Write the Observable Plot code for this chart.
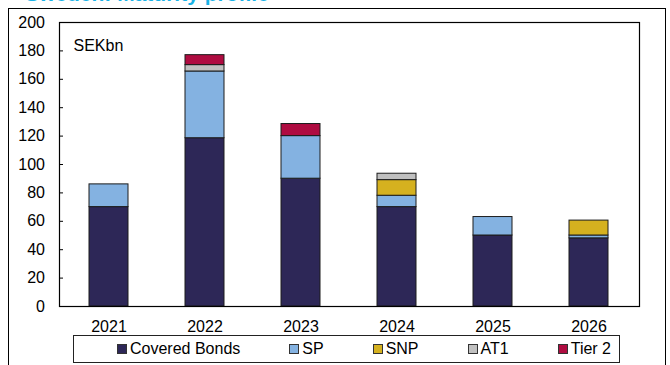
<!DOCTYPE html>
<html>
<head>
<meta charset="utf-8">
<script src="https://cdn.jsdelivr.net/npm/d3@7"></script>
<script src="https://cdn.jsdelivr.net/npm/@observablehq/plot@0.6"></script>
<style>
  html, body { margin: 0; padding: 0; background: #fff; }
  #wrap { position: relative; width: 670px; height: 365px; overflow: hidden; font-family: Arial, "Liberation Sans", sans-serif; }
  #title { position: absolute; left: 25px; top: -18px; font: bold 21px Arial, "Liberation Sans", sans-serif; color: #19b2e6; white-space: nowrap; }
  #frame { position: absolute; left: 8px; top: 8px; width: 658px; height: 400px; border: 1.5px solid #000; box-sizing: border-box; }
  #chart { position: absolute; left: 0; top: 0; }
  #legend { position: absolute; left: 73px; top: 335px; width: 547px; height: 28px; border: 1px solid #222; box-sizing: border-box; background: #fff;
            display: flex; align-items: center; padding-left: 43px; gap: 49px; font-size: 16px; color: #000; }
  .item { display: flex; align-items: center; white-space: nowrap; }
  .sw { width: 10px; height: 10px; box-sizing: border-box; border: 1px solid #333; margin-right: 3px; }
</style>
</head>
<body>
<div id="wrap">
  <div id="title">Sweden: Maturity profile</div>
  <div id="frame"></div>
  <div id="chart"></div>
  <div id="legend"></div>
</div>
<script>
const years = ["2021", "2022", "2023", "2024", "2025", "2026"];
const seriesNames = ["Covered Bonds", "SP", "SNP", "AT1", "Tier 2"];
const seriesColors = ["#2d2757", "#84b2e1", "#d5b11f", "#c0c0c0", "#af0c41"];
const coveredBonds = [70, 118.5, 90, 70, 50, 48];
const sp = [16, 47, 30, 8, 13, 2];
const snp = [0, 0, 0, 11, 0, 10.5];
const at1 = [0, 4.5, 0, 4.5, 0, 0];
const tier2 = [0, 7, 8.5, 0, 0, 0];
const yTicks = [0, 20, 40, 60, 80, 100, 120, 140, 160, 180, 200];
const unitLabel = "SEKbn";

const seriesValues = [coveredBonds, sp, snp, at1, tier2];
const rows = [];
seriesNames.forEach((s, i) => {
  years.forEach((yr, j) => {
    rows.push({year: yr, series: s, value: seriesValues[i][j]});
  });
});

const chart = Plot.plot({
  width: 670,
  height: 365,
  marginLeft: 59,
  marginRight: 31,
  marginTop: 22,
  marginBottom: 59,
  style: {fontFamily: "Arial, 'Liberation Sans', sans-serif", fontSize: "16px", color: "#000", background: "transparent", overflow: "visible"},
  x: {domain: years, paddingInner: 0.59, paddingOuter: 0.295, label: null},
  y: {domain: [0, 200], label: null},
  color: {domain: seriesNames, range: seriesColors},
  marks: [
    Plot.barY(rows, {x: "year", y: "value", fill: "series", stroke: "#1c1c1c", strokeWidth: 1}),
    Plot.frame({stroke: "#000", strokeWidth: 1.2}),
    Plot.axisY({ticks: yTicks, tickSize: -4, tickPadding: 18.5, tickFormat: d => String(d), fontSize: 16, stroke: "#000"}),
    Plot.axisX({tickSize: 0, tickPadding: 14, fontSize: 16}),
    Plot.text([unitLabel], {frameAnchor: "top-left", dx: 14, dy: 17, lineAnchor: "top", textAnchor: "start", fontSize: 16, fill: "#000"})
  ]
});
document.getElementById("chart").appendChild(chart);

const legend = document.getElementById("legend");
seriesNames.forEach((s, i) => {
  const item = document.createElement("div");
  item.className = "item";
  const sw = document.createElement("div");
  sw.className = "sw";
  sw.style.background = seriesColors[i];
  const t = document.createElement("span");
  t.textContent = s;
  item.appendChild(sw);
  item.appendChild(t);
  legend.appendChild(item);
});
</script>
</body>
</html>
